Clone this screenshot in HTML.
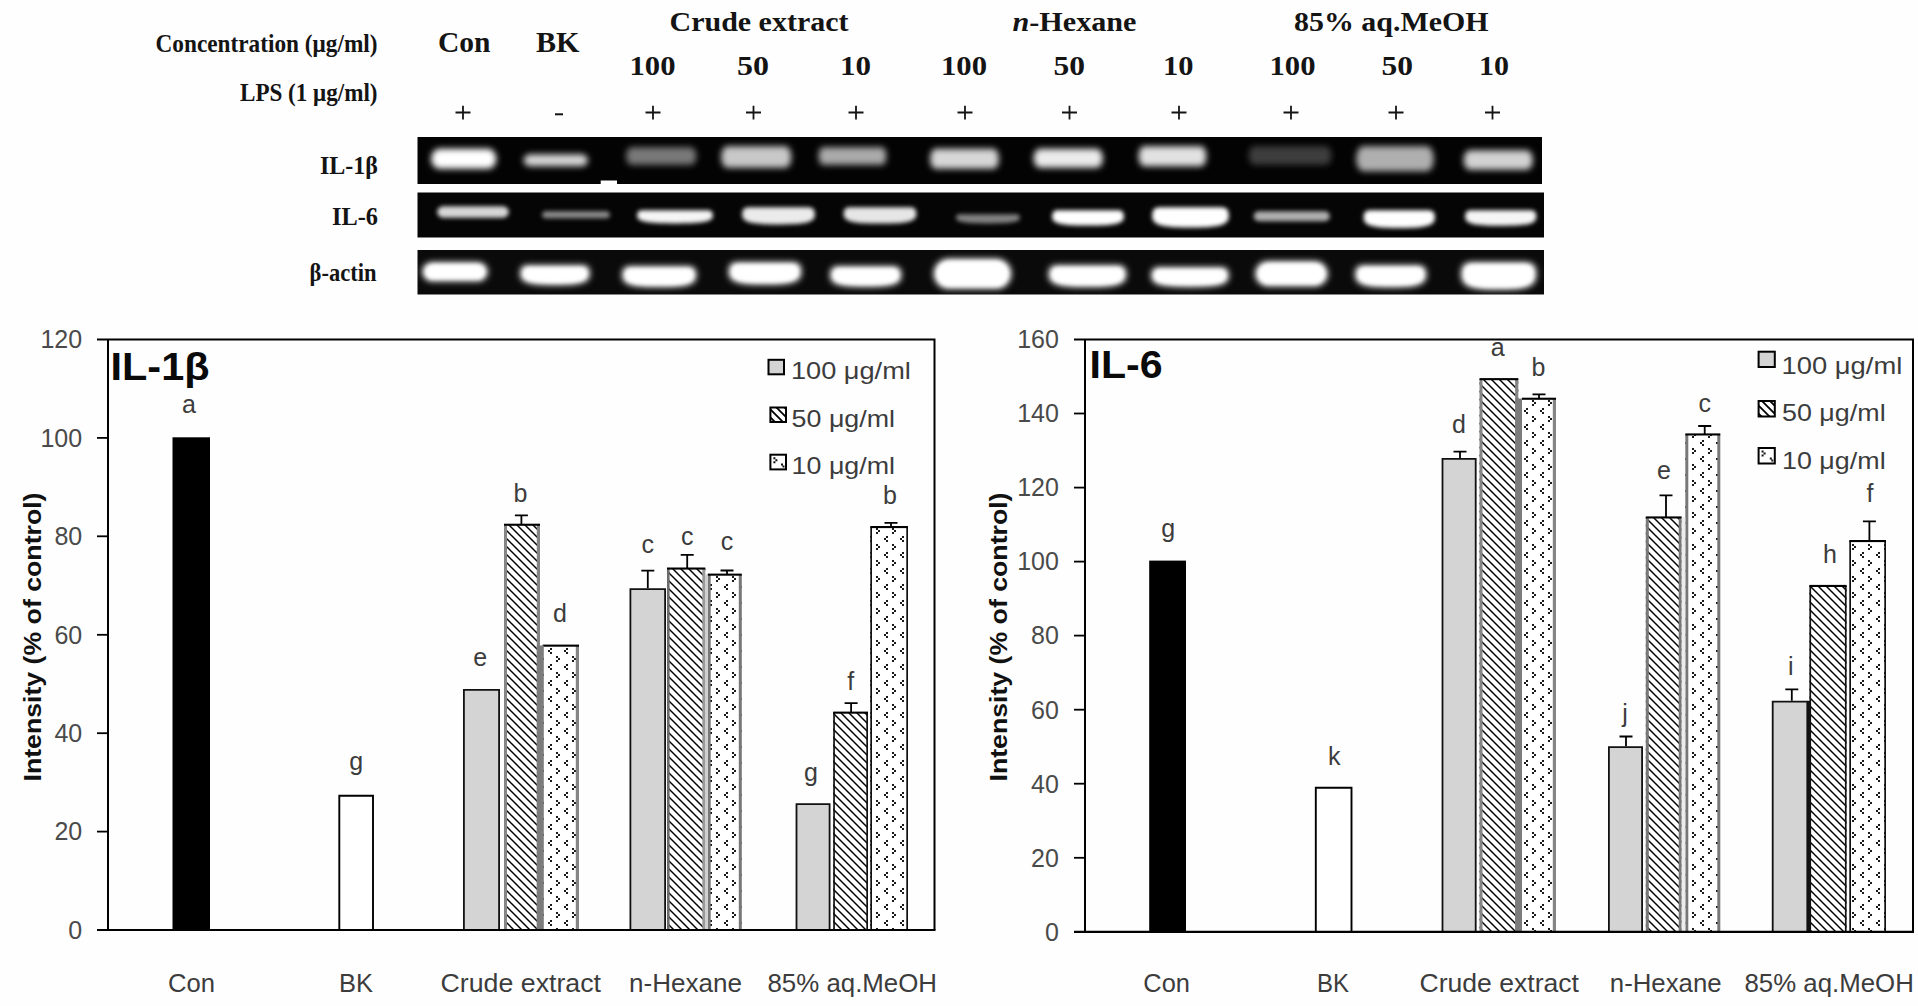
<!DOCTYPE html>
<html lang="en"><head><meta charset="utf-8"><title>Figure</title>
<style>html,body{margin:0;padding:0;background:#fefefe;}body{width:1918px;height:1006px;overflow:hidden;}svg{display:block;}text{white-space:pre;}</style></head><body>
<svg width="1918" height="1006" viewBox="0 0 1918 1006">
<defs>
<filter id="b2" filterUnits="userSpaceOnUse" x="400" y="125" width="1170" height="180"><feGaussianBlur stdDeviation="2.2"/></filter>
<filter id="b3" filterUnits="userSpaceOnUse" x="400" y="125" width="1170" height="180"><feGaussianBlur stdDeviation="3"/></filter>
<clipPath id="cg1"><rect x="417.5" y="137" width="1124.5" height="47"/></clipPath>
<clipPath id="cg2"><rect x="417.5" y="192.5" width="1126.5" height="45"/></clipPath>
<clipPath id="cg3"><rect x="417.5" y="250" width="1126.5" height="44.5"/></clipPath>
<pattern id="hatch" width="8" height="8" patternUnits="userSpaceOnUse"><rect width="8" height="8" fill="#fff"/><path d="M-2 -2L10 10M-2 6L2 10M6 -2L10 2" stroke="#000" stroke-width="1.45"/></pattern>
<pattern id="hatchL" width="8" height="8" patternUnits="userSpaceOnUse" patternTransform="translate(1 0)"><rect width="8" height="8" fill="#fff"/><path d="M-2 -2L10 10M-2 6L2 10M6 -2L10 2" stroke="#000" stroke-width="1.8"/></pattern>
<pattern id="dots" width="16" height="16" patternUnits="userSpaceOnUse" patternTransform="translate(4 8)"><rect width="16" height="16" fill="#fff"/><g fill="#1a1a1a"><rect x="2" y="0" width="2" height="2"/><rect x="0" y="2" width="2" height="2"/><rect x="2" y="4" width="2" height="2"/><rect x="8" y="8" width="2" height="2"/><rect x="10" y="10" width="2" height="2"/><rect x="8" y="12" width="2" height="2"/></g></pattern>
</defs>
<rect width="1918" height="1006" fill="#fefefe"/>
<text x="155.5" y="51.8" font-family='"Liberation Serif", serif' font-size="25" font-weight="bold" font-style="normal" text-anchor="start" fill="#141414" textLength="222" lengthAdjust="spacingAndGlyphs">Concentration (&#956;g/ml)</text>
<text x="240" y="101" font-family='"Liberation Serif", serif' font-size="25" font-weight="bold" font-style="normal" text-anchor="start" fill="#141414" textLength="137.5" lengthAdjust="spacingAndGlyphs">LPS (1 &#956;g/ml)</text>
<text x="438" y="52" font-family='"Liberation Serif", serif' font-size="29.5" font-weight="bold" font-style="normal" text-anchor="start" fill="#141414" textLength="52.5" lengthAdjust="spacingAndGlyphs">Con</text>
<text x="536" y="52" font-family='"Liberation Serif", serif' font-size="29.5" font-weight="bold" font-style="normal" text-anchor="start" fill="#141414" textLength="43.5" lengthAdjust="spacingAndGlyphs">BK</text>
<text x="669.5" y="30.5" font-family='"Liberation Serif", serif' font-size="28" font-weight="bold" font-style="normal" text-anchor="start" fill="#141414" textLength="179" lengthAdjust="spacingAndGlyphs">Crude extract</text>
<text x="1012.5" y="30.5" font-family='"Liberation Serif", serif' font-size="28" font-weight="bold" fill="#141414" textLength="124" lengthAdjust="spacingAndGlyphs"><tspan font-style="italic">n</tspan>-Hexane</text>
<text x="1294" y="30.5" font-family='"Liberation Serif", serif' font-size="28" font-weight="bold" font-style="normal" text-anchor="start" fill="#141414" textLength="194.5" lengthAdjust="spacingAndGlyphs">85% aq.MeOH</text>
<text x="629.5" y="75" font-family='"Liberation Serif", serif' font-size="28" font-weight="bold" font-style="normal" text-anchor="start" fill="#141414" textLength="46.0" lengthAdjust="spacingAndGlyphs">100</text>
<text x="737" y="75" font-family='"Liberation Serif", serif' font-size="28" font-weight="bold" font-style="normal" text-anchor="start" fill="#141414" textLength="32" lengthAdjust="spacingAndGlyphs">50</text>
<text x="840" y="75" font-family='"Liberation Serif", serif' font-size="28" font-weight="bold" font-style="normal" text-anchor="start" fill="#141414" textLength="31" lengthAdjust="spacingAndGlyphs">10</text>
<text x="941" y="75" font-family='"Liberation Serif", serif' font-size="28" font-weight="bold" font-style="normal" text-anchor="start" fill="#141414" textLength="46" lengthAdjust="spacingAndGlyphs">100</text>
<text x="1053.5" y="75" font-family='"Liberation Serif", serif' font-size="28" font-weight="bold" font-style="normal" text-anchor="start" fill="#141414" textLength="31.5" lengthAdjust="spacingAndGlyphs">50</text>
<text x="1163" y="75" font-family='"Liberation Serif", serif' font-size="28" font-weight="bold" font-style="normal" text-anchor="start" fill="#141414" textLength="30.5" lengthAdjust="spacingAndGlyphs">10</text>
<text x="1269.5" y="75" font-family='"Liberation Serif", serif' font-size="28" font-weight="bold" font-style="normal" text-anchor="start" fill="#141414" textLength="46.0" lengthAdjust="spacingAndGlyphs">100</text>
<text x="1381.5" y="75" font-family='"Liberation Serif", serif' font-size="28" font-weight="bold" font-style="normal" text-anchor="start" fill="#141414" textLength="31.5" lengthAdjust="spacingAndGlyphs">50</text>
<text x="1479" y="75" font-family='"Liberation Serif", serif' font-size="28" font-weight="bold" font-style="normal" text-anchor="start" fill="#141414" textLength="30" lengthAdjust="spacingAndGlyphs">10</text>
<path d="M455.5 112.5H470.5M463 105.8V119.4" stroke="#141414" stroke-width="1.8" fill="none"/>
<path d="M645.5 112.5H660.5M653 105.8V119.4" stroke="#141414" stroke-width="1.8" fill="none"/>
<path d="M746.0 112.5H761.0M753.5 105.8V119.4" stroke="#141414" stroke-width="1.8" fill="none"/>
<path d="M848.5 112.5H863.5M856 105.8V119.4" stroke="#141414" stroke-width="1.8" fill="none"/>
<path d="M957.5 112.5H972.5M965 105.8V119.4" stroke="#141414" stroke-width="1.8" fill="none"/>
<path d="M1062.0 112.5H1077.0M1069.5 105.8V119.4" stroke="#141414" stroke-width="1.8" fill="none"/>
<path d="M1171.5 112.5H1186.5M1179 105.8V119.4" stroke="#141414" stroke-width="1.8" fill="none"/>
<path d="M1283.5 112.5H1298.5M1291 105.8V119.4" stroke="#141414" stroke-width="1.8" fill="none"/>
<path d="M1388.5 112.5H1403.5M1396 105.8V119.4" stroke="#141414" stroke-width="1.8" fill="none"/>
<path d="M1485.0 112.5H1500.0M1492.5 105.8V119.4" stroke="#141414" stroke-width="1.8" fill="none"/>
<path d="M555 114.3H563" stroke="#141414" stroke-width="2" fill="none"/>
<text x="320" y="174" font-family='"Liberation Serif", serif' font-size="25" font-weight="bold" font-style="normal" text-anchor="start" fill="#141414" textLength="58" lengthAdjust="spacingAndGlyphs">IL-1&#946;</text>
<text x="332" y="225" font-family='"Liberation Serif", serif' font-size="25" font-weight="bold" font-style="normal" text-anchor="start" fill="#141414" textLength="46" lengthAdjust="spacingAndGlyphs">IL-6</text>
<text x="309.5" y="280.5" font-family='"Liberation Serif", serif' font-size="25" font-weight="bold" font-style="normal" text-anchor="start" fill="#141414" textLength="67" lengthAdjust="spacingAndGlyphs">&#946;-actin</text>
<g>
<rect x="417.5" y="137" width="1124.5" height="47" fill="#030303"/>
<rect x="417.5" y="192.5" width="1126.5" height="45" fill="#050505"/>
<rect x="417.5" y="250" width="1126.5" height="44.5" fill="#0a0a0a"/>
<g clip-path="url(#cg1)">
<rect x="431.2" y="148.7" width="65.1" height="20.1" rx="8.0" ry="10.1" fill="rgb(255,255,255)" filter="url(#b3)" opacity="1.0"/>
<rect x="523.7" y="154.2" width="64.1" height="12.1" rx="6.0" ry="6.0" fill="rgb(215,215,215)" filter="url(#b3)" opacity="1.0"/>
<rect x="626.2" y="147.2" width="70.1" height="17.6" rx="5.0" ry="8.8" fill="rgb(120,120,120)" filter="url(#b3)" opacity="1.0"/>
<rect x="721.2" y="146.2" width="70.1" height="21.6" rx="6.0" ry="10.8" fill="rgb(200,200,200)" filter="url(#b3)" opacity="1.0"/>
<rect x="818.7" y="147.2" width="67.6" height="17.6" rx="4.0" ry="8.8" fill="rgb(170,170,170)" filter="url(#b3)" opacity="1.0"/>
<rect x="930.2" y="148.7" width="68.6" height="20.1" rx="5.0" ry="10.1" fill="rgb(215,215,215)" filter="url(#b3)" opacity="1.0"/>
<rect x="1033.7" y="148.7" width="69.1" height="19.1" rx="6.0" ry="9.6" fill="rgb(235,235,235)" filter="url(#b3)" opacity="1.0"/>
<rect x="1138.7" y="146.2" width="67.6" height="20.1" rx="5.0" ry="10.1" fill="rgb(225,225,225)" filter="url(#b3)" opacity="1.0"/>
<rect x="1248.7" y="146.2" width="82.6" height="18.6" rx="5.0" ry="9.3" fill="rgb(60,60,60)" filter="url(#b3)" opacity="1.0"/>
<rect x="1356.2" y="146.2" width="77.6" height="25.1" rx="7.0" ry="12.6" fill="rgb(175,175,175)" filter="url(#b3)" opacity="1.0"/>
<rect x="1463.7" y="150.2" width="69.1" height="19.6" rx="6.0" ry="9.8" fill="rgb(210,210,210)" filter="url(#b3)" opacity="1.0"/>
</g>
<rect x="600.7" y="180.5" width="16.3" height="4" fill="#fff"/>
<g clip-path="url(#cg2)">
<rect x="437.2" y="206.2" width="71.6" height="11.6" rx="5.8" ry="5.8" fill="rgb(215,215,215)" filter="url(#b2)" opacity="1.0"/>
<rect x="542.2" y="211.2" width="67.6" height="7.1" rx="3.5" ry="3.5" fill="rgb(140,140,140)" filter="url(#b2)" opacity="1.0"/>
<path d="M642.0 210.2H708.0Q712.8 210.2 712.8 215.0V216.5C712.8 222.4 697.7 223.4 675.0 223.4C652.3 223.4 637.2 222.4 637.2 216.5V215.0Q637.2 210.2 642.0 210.2Z" fill="rgb(245,245,245)" filter="url(#b2)" opacity="1.0"/>
<path d="M748.5 207.2H808.5Q814.8 207.2 814.8 213.5V215.5C814.8 223.4 800.3 224.4 778.5 224.4C756.7 224.4 742.2 223.4 742.2 215.5V213.5Q742.2 207.2 748.5 207.2Z" fill="rgb(235,235,235)" filter="url(#b2)" opacity="1.0"/>
<path d="M849.6 207.2H910.4Q916.3 207.2 916.3 213.1V215.0C916.3 222.6 901.8 223.6 880.0 223.6C858.2 223.6 843.7 222.6 843.7 215.0V213.1Q843.7 207.2 849.6 207.2Z" fill="rgb(230,230,230)" filter="url(#b2)" opacity="1.0"/>
<path d="M959.5 214.2H1016.5Q1019.8 214.2 1019.8 217.5V218.5C1019.8 222.4 1007.1 223.4 988.0 223.4C968.9 223.4 956.2 222.4 956.2 218.5V217.5Q956.2 214.2 959.5 214.2Z" fill="rgb(130,130,130)" filter="url(#b2)" opacity="1.0"/>
<path d="M1057.7 210.2H1118.3Q1123.8 210.2 1123.8 215.7V217.5C1123.8 224.6 1109.5 225.6 1088.0 225.6C1066.5 225.6 1052.2 224.6 1052.2 217.5V215.7Q1052.2 210.2 1057.7 210.2Z" fill="rgb(255,255,255)" filter="url(#b2)" opacity="1.0"/>
<path d="M1159.5 207.2H1221.5Q1228.8 207.2 1228.8 214.5V216.8C1228.8 226.5 1213.5 227.5 1190.5 227.5C1167.5 227.5 1152.2 226.5 1152.2 216.8V214.5Q1152.2 207.2 1159.5 207.2Z" fill="rgb(255,255,255)" filter="url(#b2)" opacity="1.0"/>
<rect x="1253.7" y="211.2" width="76.1" height="10.1" rx="5.0" ry="5.0" fill="rgb(175,175,175)" filter="url(#b2)" opacity="1.0"/>
<path d="M1369.8 210.2H1428.7Q1434.8 210.2 1434.8 216.3V218.2C1434.8 226.9 1420.6 227.9 1399.2 227.9C1377.9 227.9 1363.7 226.9 1363.7 218.2V216.3Q1363.7 210.2 1369.8 210.2Z" fill="rgb(255,255,255)" filter="url(#b2)" opacity="1.0"/>
<path d="M1470.7 210.2H1530.8Q1536.3 210.2 1536.3 215.7V217.5C1536.3 224.8 1522.1 225.8 1500.8 225.8C1479.4 225.8 1465.2 224.8 1465.2 217.5V215.7Q1465.2 210.2 1470.7 210.2Z" fill="rgb(245,245,245)" filter="url(#b2)" opacity="1.0"/>
</g>
<g clip-path="url(#cg3)">
<rect x="422.2" y="262.2" width="65.6" height="19.1" rx="9.6" ry="9.6" fill="rgb(255,255,255)" filter="url(#b3)" opacity="1.0"/>
<rect x="426.2" y="265.2" width="57.6" height="13.1" rx="6.5" ry="6.5" fill="rgb(255,255,255)" filter="url(#b2)" opacity="1.0"/>
<path d="M527.3 265.2H582.7Q589.8 265.2 589.8 272.3V274.5C589.8 284.0 575.9 285.0 555.0 285.0C534.1 285.0 520.2 284.0 520.2 274.5V272.3Q520.2 265.2 527.3 265.2Z" fill="rgb(255,255,255)" filter="url(#b3)" opacity="1.0"/>
<path d="M529.0 268.2H581.0Q585.8 268.2 585.8 273.0V274.5C585.8 281.0 573.5 282.0 555.0 282.0C536.5 282.0 524.2 281.0 524.2 274.5V273.0Q524.2 268.2 529.0 268.2Z" fill="rgb(255,255,255)" filter="url(#b2)" opacity="1.0"/>
<path d="M629.8 266.2H688.7Q696.3 266.2 696.3 273.8V276.2C696.3 286.1 681.5 287.1 659.2 287.1C637.0 287.1 622.2 286.1 622.2 276.2V273.8Q622.2 266.2 629.8 266.2Z" fill="rgb(255,255,255)" filter="url(#b3)" opacity="1.0"/>
<path d="M631.6 269.2H686.9Q692.3 269.2 692.3 274.6V276.2C692.3 283.1 679.1 284.1 659.2 284.1C639.4 284.1 626.2 283.1 626.2 276.2V274.6Q626.2 269.2 631.6 269.2Z" fill="rgb(255,255,255)" filter="url(#b2)" opacity="1.0"/>
<path d="M736.9 262.2H793.1Q801.3 262.2 801.3 270.4V273.0C801.3 283.6 786.8 284.6 765.0 284.6C743.2 284.6 728.7 283.6 728.7 273.0V270.4Q728.7 262.2 736.9 262.2Z" fill="rgb(255,255,255)" filter="url(#b3)" opacity="1.0"/>
<path d="M738.6 265.2H791.4Q797.3 265.2 797.3 271.1V273.0C797.3 280.6 784.4 281.6 765.0 281.6C745.6 281.6 732.7 280.6 732.7 273.0V271.1Q732.7 265.2 738.6 265.2Z" fill="rgb(255,255,255)" filter="url(#b2)" opacity="1.0"/>
<path d="M837.8 266.2H893.7Q901.3 266.2 901.3 273.8V276.2C901.3 285.7 887.1 286.7 865.8 286.7C844.4 286.7 830.2 285.7 830.2 276.2V273.8Q830.2 266.2 837.8 266.2Z" fill="rgb(255,255,255)" filter="url(#b3)" opacity="1.0"/>
<path d="M839.6 269.2H891.9Q897.3 269.2 897.3 274.6V276.2C897.3 282.7 884.7 283.7 865.8 283.7C846.8 283.7 834.2 282.7 834.2 276.2V274.6Q834.2 269.2 839.6 269.2Z" fill="rgb(255,255,255)" filter="url(#b2)" opacity="1.0"/>
<rect x="933.7" y="258.7" width="77.6" height="30.1" rx="15.1" ry="15.1" fill="rgb(255,255,255)" filter="url(#b3)" opacity="1.0"/>
<rect x="937.7" y="261.7" width="69.6" height="24.1" rx="12.1" ry="12.1" fill="rgb(255,255,255)" filter="url(#b2)" opacity="1.0"/>
<path d="M1056.7 265.2H1118.3Q1126.3 265.2 1126.3 273.2V275.8C1126.3 286.1 1110.8 287.1 1087.5 287.1C1064.2 287.1 1048.7 286.1 1048.7 275.8V273.2Q1048.7 265.2 1056.7 265.2Z" fill="rgb(255,255,255)" filter="url(#b3)" opacity="1.0"/>
<path d="M1058.4 268.2H1116.6Q1122.3 268.2 1122.3 273.9V275.8C1122.3 283.1 1108.4 284.1 1087.5 284.1C1066.6 284.1 1052.7 283.1 1052.7 275.8V273.9Q1052.7 268.2 1058.4 268.2Z" fill="rgb(255,255,255)" filter="url(#b2)" opacity="1.0"/>
<path d="M1158.5 267.2H1221.5Q1228.8 267.2 1228.8 274.5V276.8C1228.8 285.9 1213.3 286.9 1190.0 286.9C1166.7 286.9 1151.2 285.9 1151.2 276.8V274.5Q1151.2 267.2 1158.5 267.2Z" fill="rgb(255,255,255)" filter="url(#b3)" opacity="1.0"/>
<path d="M1160.2 270.2H1219.8Q1224.8 270.2 1224.8 275.2V276.8C1224.8 282.9 1210.9 283.9 1190.0 283.9C1169.1 283.9 1155.2 282.9 1155.2 276.8V275.2Q1155.2 270.2 1160.2 270.2Z" fill="rgb(255,255,255)" filter="url(#b2)" opacity="1.0"/>
<rect x="1255.2" y="261.2" width="72.6" height="25.1" rx="12.6" ry="12.6" fill="rgb(255,255,255)" filter="url(#b3)" opacity="1.0"/>
<rect x="1259.2" y="264.2" width="64.6" height="19.1" rx="9.6" ry="9.6" fill="rgb(255,255,255)" filter="url(#b2)" opacity="1.0"/>
<path d="M1363.2 265.2H1418.3Q1426.3 265.2 1426.3 273.2V275.8C1426.3 286.3 1412.1 287.3 1390.8 287.3C1369.4 287.3 1355.2 286.3 1355.2 275.8V273.2Q1355.2 265.2 1363.2 265.2Z" fill="rgb(255,255,255)" filter="url(#b3)" opacity="1.0"/>
<path d="M1364.9 268.2H1416.6Q1422.3 268.2 1422.3 273.9V275.8C1422.3 283.3 1409.7 284.3 1390.8 284.3C1371.8 284.3 1359.2 283.3 1359.2 275.8V273.9Q1359.2 268.2 1364.9 268.2Z" fill="rgb(255,255,255)" filter="url(#b2)" opacity="1.0"/>
<path d="M1471.3 262.2H1526.2Q1536.3 262.2 1536.3 272.3V275.5C1536.3 288.6 1521.3 289.6 1498.8 289.6C1476.2 289.6 1461.2 288.6 1461.2 275.5V272.3Q1461.2 262.2 1471.3 262.2Z" fill="rgb(255,255,255)" filter="url(#b3)" opacity="1.0"/>
<path d="M1473.0 265.2H1524.5Q1532.3 265.2 1532.3 273.0V275.5C1532.3 285.6 1518.9 286.6 1498.8 286.6C1478.6 286.6 1465.2 285.6 1465.2 275.5V273.0Q1465.2 265.2 1473.0 265.2Z" fill="rgb(255,255,255)" filter="url(#b2)" opacity="1.0"/>
</g>
</g>
<path d="M97 339.5H934.5V930" stroke="#000" stroke-width="2" fill="none"/>
<rect x="172.5" y="437.3" width="37.5" height="492.7" fill="#000"/>
<path d="M339.3 930V795.8H373.0V930" fill="#fff" stroke="#000" stroke-width="1.9"/>
<path d="M463.9 930V689.9H499.1V930" fill="#d4d4d4" stroke="#111" stroke-width="1.8"/>
<rect x="504" y="524.6" width="36.0" height="405.4" fill="url(#hatch)"/>
<rect x="504" y="524.6" width="3.0" height="405.4" fill="#858585"/>
<rect x="536.8" y="524.6" width="3.2" height="405.4" fill="#858585"/>
<rect x="504" y="523.7" width="36.0" height="2.1" fill="#000"/>
<rect x="542.6" y="645.5" width="36.4" height="284.5" fill="url(#dots)"/>
<rect x="542.6" y="645.5" width="0.01" height="284.5" fill="#858585"/>
<rect x="575.8" y="645.5" width="3.2" height="284.5" fill="#858585"/>
<rect x="542.6" y="644.6" width="36.4" height="2.1" fill="#000"/>
<path d="M630.4 930V589.1999999999999H665.1V930" fill="#d4d4d4" stroke="#111" stroke-width="1.8"/>
<rect x="667" y="568.4" width="38.3" height="361.6" fill="url(#hatch)"/>
<rect x="667" y="568.4" width="2.6" height="361.6" fill="#6c6c6c"/>
<rect x="702.3" y="568.4" width="3.0" height="361.6" fill="#9a9a9a"/>
<rect x="667" y="567.5" width="38.3" height="2.1" fill="#000"/>
<rect x="707.7" y="574.5" width="34.1" height="355.5" fill="url(#dots)"/>
<rect x="707.7" y="574.5" width="3.0" height="355.5" fill="#787878"/>
<rect x="738.8" y="574.5" width="3.0" height="355.5" fill="#787878"/>
<rect x="707.7" y="573.6" width="34.1" height="2.1" fill="#000"/>
<path d="M796.5 930V804.1999999999999H829.6V930" fill="#d4d4d4" stroke="#111" stroke-width="1.8"/>
<rect x="833.2" y="712.5" width="34.8" height="217.5" fill="url(#hatch)"/>
<rect x="833.2" y="712.5" width="1.7" height="217.5" fill="#111111"/>
<rect x="866.3" y="712.5" width="1.7" height="217.5" fill="#111111"/>
<rect x="833.2" y="711.6" width="34.8" height="2.1" fill="#000"/>
<rect x="870.3" y="526.9" width="37.7" height="403.1" fill="url(#dots)"/>
<rect x="870.3" y="526.9" width="1.7" height="403.1" fill="#111111"/>
<rect x="906.3" y="526.9" width="1.7" height="403.1" fill="#111111"/>
<rect x="870.3" y="526.0" width="37.7" height="2.1" fill="#000"/>
<rect x="536.8" y="645.5" width="7.0" height="284.5" fill="#7c7c7c"/>
<rect x="705.3" y="574.5" width="2.4" height="355.5" fill="#cfcfcf"/>
<path d="M521.4 524.6V515.3M514.9 515.3H527.9" stroke="#000" stroke-width="1.8" fill="none"/>
<path d="M647.8 588.3V570.7M641.3 570.7H654.3" stroke="#000" stroke-width="1.8" fill="none"/>
<path d="M687.2 568.4V554.8M680.7 554.8H693.7" stroke="#000" stroke-width="1.8" fill="none"/>
<path d="M727 574.5V570.5M720.5 570.5H733.5" stroke="#000" stroke-width="1.8" fill="none"/>
<path d="M851.1 712.5V703.2M844.6 703.2H857.6" stroke="#000" stroke-width="1.8" fill="none"/>
<path d="M891 526.9V522.9M884.5 522.9H897.5" stroke="#000" stroke-width="1.8" fill="none"/>
<path d="M108 339.5V930" stroke="#000" stroke-width="2" fill="none"/>
<path d="M97 930H935.5" stroke="#000" stroke-width="2.2" fill="none"/>
<text x="82.2" y="348.3" font-family='"Liberation Sans", sans-serif' font-size="25" font-weight="normal" font-style="normal" text-anchor="end" fill="#4a4a4a">120</text>
<path d="M97 437.9H108" stroke="#000" stroke-width="1.8" fill="none"/>
<text x="82.2" y="446.7" font-family='"Liberation Sans", sans-serif' font-size="25" font-weight="normal" font-style="normal" text-anchor="end" fill="#4a4a4a">100</text>
<path d="M97 536.3H108" stroke="#000" stroke-width="1.8" fill="none"/>
<text x="82.2" y="545.1" font-family='"Liberation Sans", sans-serif' font-size="25" font-weight="normal" font-style="normal" text-anchor="end" fill="#4a4a4a">80</text>
<path d="M97 634.8H108" stroke="#000" stroke-width="1.8" fill="none"/>
<text x="82.2" y="643.5" font-family='"Liberation Sans", sans-serif' font-size="25" font-weight="normal" font-style="normal" text-anchor="end" fill="#4a4a4a">60</text>
<path d="M97 733.2H108" stroke="#000" stroke-width="1.8" fill="none"/>
<text x="82.2" y="742.0" font-family='"Liberation Sans", sans-serif' font-size="25" font-weight="normal" font-style="normal" text-anchor="end" fill="#4a4a4a">40</text>
<path d="M97 831.6H108" stroke="#000" stroke-width="1.8" fill="none"/>
<text x="82.2" y="840.4" font-family='"Liberation Sans", sans-serif' font-size="25" font-weight="normal" font-style="normal" text-anchor="end" fill="#4a4a4a">20</text>
<text x="82.2" y="938.8" font-family='"Liberation Sans", sans-serif' font-size="25" font-weight="normal" font-style="normal" text-anchor="end" fill="#4a4a4a">0</text>
<text x="110.5" y="379.8" font-family='"Liberation Sans", sans-serif' font-size="39" font-weight="bold" font-style="normal" text-anchor="start" fill="#0a0a0a" textLength="99" lengthAdjust="spacingAndGlyphs">IL-1&#946;</text>
<text transform="translate(41.4 781.5) rotate(-90)" font-family='"Liberation Sans", sans-serif' font-size="24" font-weight="bold" fill="#111" textLength="289" lengthAdjust="spacingAndGlyphs">Intensity (% of control)</text>
<text x="189" y="413" font-family='"Liberation Sans", sans-serif' font-size="25" font-weight="normal" font-style="normal" text-anchor="middle" fill="#3c3c3c">a</text>
<text x="356.2" y="770.2" font-family='"Liberation Sans", sans-serif' font-size="25" font-weight="normal" font-style="normal" text-anchor="middle" fill="#3c3c3c">g</text>
<text x="480.3" y="665.5" font-family='"Liberation Sans", sans-serif' font-size="25" font-weight="normal" font-style="normal" text-anchor="middle" fill="#3c3c3c">e</text>
<text x="520.4" y="502.2" font-family='"Liberation Sans", sans-serif' font-size="25" font-weight="normal" font-style="normal" text-anchor="middle" fill="#3c3c3c">b</text>
<text x="560" y="622.4" font-family='"Liberation Sans", sans-serif' font-size="25" font-weight="normal" font-style="normal" text-anchor="middle" fill="#3c3c3c">d</text>
<text x="647.8" y="553.2" font-family='"Liberation Sans", sans-serif' font-size="25" font-weight="normal" font-style="normal" text-anchor="middle" fill="#3c3c3c">c</text>
<text x="687.2" y="545.4" font-family='"Liberation Sans", sans-serif' font-size="25" font-weight="normal" font-style="normal" text-anchor="middle" fill="#3c3c3c">c</text>
<text x="727" y="549.5" font-family='"Liberation Sans", sans-serif' font-size="25" font-weight="normal" font-style="normal" text-anchor="middle" fill="#3c3c3c">c</text>
<text x="810.9" y="781" font-family='"Liberation Sans", sans-serif' font-size="25" font-weight="normal" font-style="normal" text-anchor="middle" fill="#3c3c3c">g</text>
<text x="850.8" y="689.5" font-family='"Liberation Sans", sans-serif' font-size="25" font-weight="normal" font-style="normal" text-anchor="middle" fill="#3c3c3c">f</text>
<text x="890" y="504.1" font-family='"Liberation Sans", sans-serif' font-size="25" font-weight="normal" font-style="normal" text-anchor="middle" fill="#3c3c3c">b</text>
<text x="168" y="992" font-family='"Liberation Sans", sans-serif' font-size="25" font-weight="normal" font-style="normal" text-anchor="start" fill="#3c3c3c" textLength="47" lengthAdjust="spacingAndGlyphs">Con</text>
<text x="339" y="992" font-family='"Liberation Sans", sans-serif' font-size="25" font-weight="normal" font-style="normal" text-anchor="start" fill="#3c3c3c" textLength="34" lengthAdjust="spacingAndGlyphs">BK</text>
<text x="440.5" y="992" font-family='"Liberation Sans", sans-serif' font-size="25" font-weight="normal" font-style="normal" text-anchor="start" fill="#3c3c3c" textLength="160.5" lengthAdjust="spacingAndGlyphs">Crude extract</text>
<text x="629" y="992" font-family='"Liberation Sans", sans-serif' font-size="25" font-weight="normal" font-style="normal" text-anchor="start" fill="#3c3c3c" textLength="113" lengthAdjust="spacingAndGlyphs">n-Hexane</text>
<text x="767.5" y="992" font-family='"Liberation Sans", sans-serif' font-size="25" font-weight="normal" font-style="normal" text-anchor="start" fill="#3c3c3c" textLength="169.5" lengthAdjust="spacingAndGlyphs">85% aq.MeOH</text>
<rect x="768.5" y="359.8" width="15.5" height="14.5" fill="#d4d4d4" stroke="#000" stroke-width="2"/>
<text x="791" y="379" font-family='"Liberation Sans", sans-serif' font-size="24" font-weight="normal" font-style="normal" text-anchor="start" fill="#3c3c3c" textLength="119.8" lengthAdjust="spacingAndGlyphs">100 &#956;g/ml</text>
<rect x="770.4" y="407.5" width="15.6" height="14.5" fill="url(#hatchL)" stroke="#000" stroke-width="2"/>
<text x="791.6" y="426.6" font-family='"Liberation Sans", sans-serif' font-size="24" font-weight="normal" font-style="normal" text-anchor="start" fill="#3c3c3c" textLength="103.4" lengthAdjust="spacingAndGlyphs">50 &#956;g/ml</text>
<rect x="770.4" y="454.7" width="15.6" height="14.7" fill="#fff" stroke="#000" stroke-width="2"/>
<path d="M773.4 457.2h2v2h-2zM775.4 459.2h2v2h-2zM773.4 461.2h2v2h-2zM781 463.4h2v2h-2zM782.5 465.4h2v2h-2z" fill="#111"/>
<text x="791.6" y="474.3" font-family='"Liberation Sans", sans-serif' font-size="24" font-weight="normal" font-style="normal" text-anchor="start" fill="#3c3c3c" textLength="103.4" lengthAdjust="spacingAndGlyphs">10 &#956;g/ml</text>
<path d="M1074 339.5H1913V931.8" stroke="#000" stroke-width="2" fill="none"/>
<rect x="1149.2" y="560.6" width="36.799999999999955" height="371.19999999999993" fill="#000"/>
<path d="M1315.8 931.8V787.8H1351.5V931.8" fill="#fff" stroke="#000" stroke-width="1.9"/>
<path d="M1442.5 931.8V458.9H1475.6999999999998V931.8" fill="#d4d4d4" stroke="#111" stroke-width="1.8"/>
<rect x="1479.5" y="379" width="38.8" height="552.8" fill="url(#hatch)"/>
<rect x="1479.5" y="379" width="3.0" height="552.8" fill="#858585"/>
<rect x="1515.1" y="379" width="3.2" height="552.8" fill="#858585"/>
<rect x="1479.5" y="378.1" width="38.8" height="2.1" fill="#000"/>
<rect x="1521.9" y="398.6" width="34.1" height="533.2" fill="url(#dots)"/>
<rect x="1521.9" y="398.6" width="0.01" height="533.2" fill="#858585"/>
<rect x="1552.8" y="398.6" width="3.2" height="533.2" fill="#858585"/>
<rect x="1521.9" y="397.70000000000005" width="34.1" height="2.1" fill="#000"/>
<path d="M1608.9 931.8V747.1H1642.1V931.8" fill="#d4d4d4" stroke="#111" stroke-width="1.8"/>
<rect x="1645.8" y="517.3" width="35.9" height="414.5" fill="url(#hatch)"/>
<rect x="1645.8" y="517.3" width="3.0" height="414.5" fill="#787878"/>
<rect x="1678.7" y="517.3" width="3.0" height="414.5" fill="#787878"/>
<rect x="1645.8" y="516.4" width="35.9" height="2.1" fill="#000"/>
<rect x="1685.3" y="434.3" width="35.0" height="497.5" fill="url(#dots)"/>
<rect x="1685.3" y="434.3" width="3.0" height="497.5" fill="#787878"/>
<rect x="1717.3" y="434.3" width="3.0" height="497.5" fill="#787878"/>
<rect x="1685.3" y="433.40000000000003" width="35.0" height="2.1" fill="#000"/>
<path d="M1772.7 931.8V701.6999999999999H1807.3V931.8" fill="#d4d4d4" stroke="#111" stroke-width="1.8"/>
<rect x="1809.4" y="585.8" width="37.2" height="346.0" fill="url(#hatch)"/>
<rect x="1809.4" y="585.8" width="1.7" height="346.0" fill="#111111"/>
<rect x="1844.9" y="585.8" width="1.7" height="346.0" fill="#111111"/>
<rect x="1809.4" y="584.9" width="37.2" height="2.1" fill="#000"/>
<rect x="1849.3" y="540.9" width="36.7" height="390.9" fill="url(#dots)"/>
<rect x="1849.3" y="540.9" width="1.7" height="390.9" fill="#111111"/>
<rect x="1884.3" y="540.9" width="1.7" height="390.9" fill="#111111"/>
<rect x="1849.3" y="540.0" width="36.7" height="2.1" fill="#000"/>
<rect x="1515.3" y="398.6" width="6.7" height="533.2" fill="#7c7c7c"/>
<rect x="1681.7" y="517.3" width="3.6" height="414.5" fill="#ececec"/>
<rect x="1807.6" y="700.8" width="2.6" height="231.0" fill="#111"/>
<path d="M1460 458V451.7M1453.5 451.7H1466.5" stroke="#000" stroke-width="1.8" fill="none"/>
<path d="M1539 398.6V394.4M1532.5 394.4H1545.5" stroke="#000" stroke-width="1.8" fill="none"/>
<path d="M1626 746.2V736.5M1619.5 736.5H1632.5" stroke="#000" stroke-width="1.8" fill="none"/>
<path d="M1666 517.3V495.3M1659.5 495.3H1672.5" stroke="#000" stroke-width="1.8" fill="none"/>
<path d="M1704.7 434.3V426M1698.2 426H1711.2" stroke="#000" stroke-width="1.8" fill="none"/>
<path d="M1791.8 700.8V689.3M1785.3 689.3H1798.3" stroke="#000" stroke-width="1.8" fill="none"/>
<path d="M1869.4 540.9V521.3M1862.9 521.3H1875.9" stroke="#000" stroke-width="1.8" fill="none"/>
<path d="M1085 339.5V931.8" stroke="#000" stroke-width="2" fill="none"/>
<path d="M1074 931.8H1914" stroke="#000" stroke-width="2.2" fill="none"/>
<text x="1058.9" y="348.3" font-family='"Liberation Sans", sans-serif' font-size="25" font-weight="normal" font-style="normal" text-anchor="end" fill="#4a4a4a">160</text>
<path d="M1074 413.5H1085" stroke="#000" stroke-width="1.8" fill="none"/>
<text x="1058.9" y="422.3" font-family='"Liberation Sans", sans-serif' font-size="25" font-weight="normal" font-style="normal" text-anchor="end" fill="#4a4a4a">140</text>
<path d="M1074 487.6H1085" stroke="#000" stroke-width="1.8" fill="none"/>
<text x="1058.9" y="496.4" font-family='"Liberation Sans", sans-serif' font-size="25" font-weight="normal" font-style="normal" text-anchor="end" fill="#4a4a4a">120</text>
<path d="M1074 561.6H1085" stroke="#000" stroke-width="1.8" fill="none"/>
<text x="1058.9" y="570.4" font-family='"Liberation Sans", sans-serif' font-size="25" font-weight="normal" font-style="normal" text-anchor="end" fill="#4a4a4a">100</text>
<path d="M1074 635.6H1085" stroke="#000" stroke-width="1.8" fill="none"/>
<text x="1058.9" y="644.4" font-family='"Liberation Sans", sans-serif' font-size="25" font-weight="normal" font-style="normal" text-anchor="end" fill="#4a4a4a">80</text>
<path d="M1074 709.7H1085" stroke="#000" stroke-width="1.8" fill="none"/>
<text x="1058.9" y="718.5" font-family='"Liberation Sans", sans-serif' font-size="25" font-weight="normal" font-style="normal" text-anchor="end" fill="#4a4a4a">60</text>
<path d="M1074 783.7H1085" stroke="#000" stroke-width="1.8" fill="none"/>
<text x="1058.9" y="792.5" font-family='"Liberation Sans", sans-serif' font-size="25" font-weight="normal" font-style="normal" text-anchor="end" fill="#4a4a4a">40</text>
<path d="M1074 857.8H1085" stroke="#000" stroke-width="1.8" fill="none"/>
<text x="1058.9" y="866.6" font-family='"Liberation Sans", sans-serif' font-size="25" font-weight="normal" font-style="normal" text-anchor="end" fill="#4a4a4a">20</text>
<text x="1058.9" y="940.6" font-family='"Liberation Sans", sans-serif' font-size="25" font-weight="normal" font-style="normal" text-anchor="end" fill="#4a4a4a">0</text>
<text x="1089.5" y="377.7" font-family='"Liberation Sans", sans-serif' font-size="39" font-weight="bold" font-style="normal" text-anchor="start" fill="#0a0a0a" textLength="73" lengthAdjust="spacingAndGlyphs">IL-6</text>
<text transform="translate(1007 781.5) rotate(-90)" font-family='"Liberation Sans", sans-serif' font-size="24" font-weight="bold" fill="#111" textLength="289" lengthAdjust="spacingAndGlyphs">Intensity (% of control)</text>
<text x="1168.3" y="537" font-family='"Liberation Sans", sans-serif' font-size="25" font-weight="normal" font-style="normal" text-anchor="middle" fill="#3c3c3c">g</text>
<text x="1334.2" y="764.8" font-family='"Liberation Sans", sans-serif' font-size="25" font-weight="normal" font-style="normal" text-anchor="middle" fill="#3c3c3c">k</text>
<text x="1459" y="432.8" font-family='"Liberation Sans", sans-serif' font-size="25" font-weight="normal" font-style="normal" text-anchor="middle" fill="#3c3c3c">d</text>
<text x="1497.8" y="356" font-family='"Liberation Sans", sans-serif' font-size="25" font-weight="normal" font-style="normal" text-anchor="middle" fill="#3c3c3c">a</text>
<text x="1538.5" y="375.7" font-family='"Liberation Sans", sans-serif' font-size="25" font-weight="normal" font-style="normal" text-anchor="middle" fill="#3c3c3c">b</text>
<text x="1625" y="721.5" font-family='"Liberation Sans", sans-serif' font-size="25" font-weight="normal" font-style="normal" text-anchor="middle" fill="#3c3c3c">j</text>
<text x="1664" y="478.7" font-family='"Liberation Sans", sans-serif' font-size="25" font-weight="normal" font-style="normal" text-anchor="middle" fill="#3c3c3c">e</text>
<text x="1704.7" y="411.9" font-family='"Liberation Sans", sans-serif' font-size="25" font-weight="normal" font-style="normal" text-anchor="middle" fill="#3c3c3c">c</text>
<text x="1790.8" y="675.3" font-family='"Liberation Sans", sans-serif' font-size="25" font-weight="normal" font-style="normal" text-anchor="middle" fill="#3c3c3c">i</text>
<text x="1830" y="563.4" font-family='"Liberation Sans", sans-serif' font-size="25" font-weight="normal" font-style="normal" text-anchor="middle" fill="#3c3c3c">h</text>
<text x="1870" y="501.9" font-family='"Liberation Sans", sans-serif' font-size="25" font-weight="normal" font-style="normal" text-anchor="middle" fill="#3c3c3c">f</text>
<text x="1143.3" y="992" font-family='"Liberation Sans", sans-serif' font-size="25" font-weight="normal" font-style="normal" text-anchor="start" fill="#3c3c3c" textLength="46.6" lengthAdjust="spacingAndGlyphs">Con</text>
<text x="1317" y="992" font-family='"Liberation Sans", sans-serif' font-size="25" font-weight="normal" font-style="normal" text-anchor="start" fill="#3c3c3c" textLength="32" lengthAdjust="spacingAndGlyphs">BK</text>
<text x="1419.5" y="992" font-family='"Liberation Sans", sans-serif' font-size="25" font-weight="normal" font-style="normal" text-anchor="start" fill="#3c3c3c" textLength="159.5" lengthAdjust="spacingAndGlyphs">Crude extract</text>
<text x="1609.8" y="992" font-family='"Liberation Sans", sans-serif' font-size="25" font-weight="normal" font-style="normal" text-anchor="start" fill="#3c3c3c" textLength="111.8" lengthAdjust="spacingAndGlyphs">n-Hexane</text>
<text x="1744.5" y="992" font-family='"Liberation Sans", sans-serif' font-size="25" font-weight="normal" font-style="normal" text-anchor="start" fill="#3c3c3c" textLength="169.3" lengthAdjust="spacingAndGlyphs">85% aq.MeOH</text>
<rect x="1758.6" y="351.7" width="16.2" height="15.3" fill="#d4d4d4" stroke="#000" stroke-width="2"/>
<text x="1781.5" y="373.5" font-family='"Liberation Sans", sans-serif' font-size="24" font-weight="normal" font-style="normal" text-anchor="start" fill="#3c3c3c" textLength="120.8" lengthAdjust="spacingAndGlyphs">100 &#956;g/ml</text>
<rect x="1758.6" y="401" width="16.2" height="15.5" fill="url(#hatchL)" stroke="#000" stroke-width="2"/>
<text x="1782" y="421.2" font-family='"Liberation Sans", sans-serif' font-size="24" font-weight="normal" font-style="normal" text-anchor="start" fill="#3c3c3c" textLength="103.6" lengthAdjust="spacingAndGlyphs">50 &#956;g/ml</text>
<rect x="1758.6" y="448" width="16.2" height="15.5" fill="#fff" stroke="#000" stroke-width="2"/>
<path d="M1761.6 450.5h2v2h-2zM1763.6 452.5h2v2h-2zM1761.6 454.5h2v2h-2zM1769.8 457.5h2v2h-2zM1771.3 459.5h2v2h-2z" fill="#111"/>
<text x="1782" y="468.5" font-family='"Liberation Sans", sans-serif' font-size="24" font-weight="normal" font-style="normal" text-anchor="start" fill="#3c3c3c" textLength="103.6" lengthAdjust="spacingAndGlyphs">10 &#956;g/ml</text>
</svg></body></html>
